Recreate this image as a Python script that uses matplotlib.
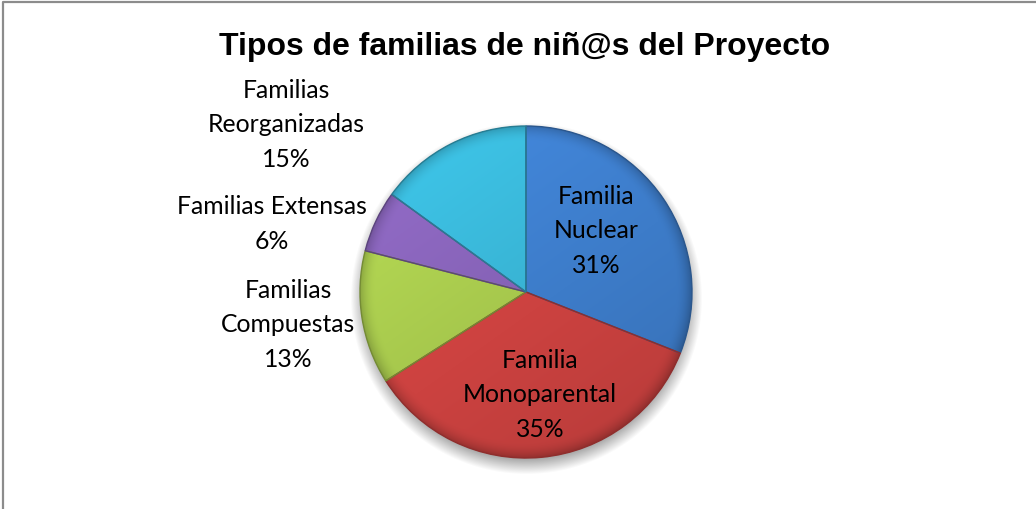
import numpy as np
import matplotlib.pyplot as plt
from matplotlib.patches import Wedge
from matplotlib.colors import to_rgb

# datos del gráfico
categorias = ['Familia\nNuclear', 'Familia\nMonoparental', 'Familias\nCompuestas',
              'Familias Extensas', 'Familias\nReorganizadas']
porcentajes = [31, 35, 13, 6, 15]
colores = ['#3D7CC9', '#CC4240', '#A5C64C', '#8461B4', '#38B2D2']

W, H = 1036, 510
fig = plt.figure(figsize=(W / 100, H / 100), dpi=100)
ax = fig.add_axes([0, 0, 1, 1])

cx, cy, r = 526, H - 293, 166

# sombra debajo del pastel
yy, xx = np.mgrid[0:H, 0:W]
d = np.hypot(xx - cx, (H - yy) - (cy - 6))
alpha = np.clip((r + 10 - d) / 16, 0, 1) * 0.35
sombra = np.zeros((H, W, 4))
sombra[..., 3] = alpha
ax.imshow(sombra, extent=(0, W, 0, H), origin='upper', zorder=1)

wedges, _ = ax.pie(porcentajes, colors=colores, startangle=90, counterclock=False,
                   center=(cx, cy), radius=r,
                   wedgeprops=dict(edgecolor='none', linewidth=0))

# degradado / bisel de cada porción
n = 400
gy, gx = np.mgrid[0:n, 0:n]
ux = (gx + 0.5) / n * 2 - 1
uy = 1 - (gy + 0.5) / n * 2
dist = np.hypot(ux, uy)
factor = 1.01 + 0.07 * uy - 0.05 * ux - 0.22 * np.clip((dist - 0.9) / 0.1, 0, 1) ** 2
for w, c in zip(wedges, colores):
    base = np.array(to_rgb(c))
    img = np.clip(base[None, None, :] * factor[..., None], 0, 1)
    im = ax.imshow(img, extent=(cx - r, cx + r, cy - r, cy + r), origin='upper', zorder=3)
    im.set_clip_path(w)
    w.set_zorder(2)
    edge = Wedge(w.center, w.r, w.theta1, w.theta2, facecolor='none',
                 edgecolor=tuple(base * 0.7), linewidth=1.0, zorder=4)
    ax.add_patch(edge)

# etiquetas
fuente = dict(family='Lato', fontsize=17.8, color='black', ha='center', va='center',
              linespacing=1.62, zorder=5)
etiquetas = [f'{c}\n{p}%' for c, p in zip(categorias, porcentajes)]
posiciones = [(596, 231), (540, 395), (288, 325), (272, 224), (286, 125)]
for t, (x, y) in zip(etiquetas, posiciones):
    ax.text(x, H - y, t, **fuente)

ax.text(525, H - 47, 'Tipos de familias de niñ@s del Proyecto', family='Liberation Sans',
        fontweight='bold', fontsize=23, ha='center', va='center')

# marco del gráfico
ax.plot([3, 3, W], [0, H - 3, H - 3], color='#8c8c8c', linewidth=1.6, zorder=6)

ax.set_xlim(0, W)
ax.set_ylim(0, H)
ax.set_aspect('auto')
ax.axis('off')

fig.savefig('out.png', dpi=100)
